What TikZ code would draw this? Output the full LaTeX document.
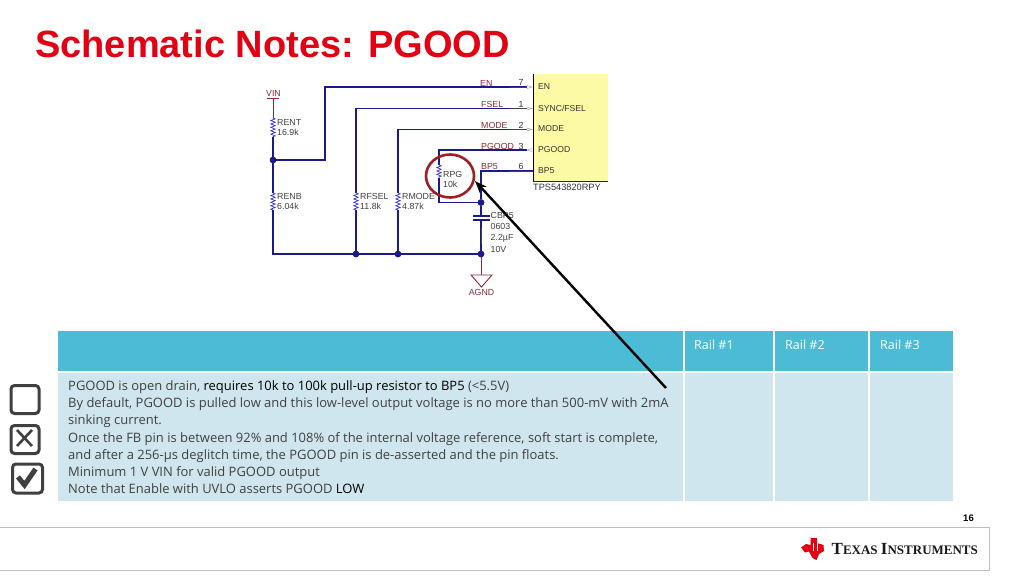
\documentclass[tikz,border=0pt]{standalone}
\usepackage{fontspec}
\setmainfont{Liberation Sans}
\newfontfamily\bodyfont{Open Sans}
\newfontfamily\logofont{Liberation Serif}
\usetikzlibrary{arrows.meta, decorations.pathmorphing, shapes.geometric}
\definecolor{ti_title}{RGB}{226, 0, 18}
\definecolor{ti_wire}{RGB}{26, 26, 140}
\definecolor{ti_res}{RGB}{50, 50, 220}
\definecolor{ti_net}{RGB}{140, 40, 50}
\definecolor{ti_chip}{RGB}{252, 250, 165}
\definecolor{ti_head}{RGB}{75, 187, 214}
\definecolor{ti_row}{RGB}{208, 230, 238}
\definecolor{ti_ring}{RGB}{160, 30, 35}
\definecolor{ti_text}{RGB}{64, 64, 64}
\definecolor{ti_frame}{RGB}{190, 190, 190}

\begin{document}
\begin{tikzpicture}[x=1pt, y=-1pt,
        wire/.style={ti_wire, line width=1.2pt},
        lead/.style={black!75, line width=1pt},
        resist/.style={ti_res, line width=0.7pt, decorate,
                       decoration={zigzag, segment length=3.4pt, amplitude=2.2pt}},
        junct/.style={circle, fill=ti_wire, inner sep=0pt, minimum size=6.5pt},
        partlbl/.style={font=\fontsize{8.8}{10.4}\selectfont, text=black!75, align=left,
                        inner sep=0pt, anchor=north west},
        netlbl/.style={font=\fontsize{8.8}{10}\selectfont, text=ti_net, inner sep=0pt, anchor=west},
        pinlbl/.style={font=\fontsize{8.6}{10}\selectfont, text=black!80, inner sep=0pt, anchor=west},
        pinnum/.style={font=\fontsize{8.8}{10}\selectfont, text=black!80, inner sep=0pt},
        pintip/.style={draw=black!40, fill=white, line width=0.4pt},
        cell/.style={rectangle, inner sep=0pt, anchor=north west},
        railtxt/.style={font=\bodyfont\fontsize{12.5}{14}\selectfont, text=white, inner sep=0pt, anchor=west},
        tickbox/.style={draw=ti_text, line width=3pt, rounded corners=3.5pt, fill=white},
      ]
        \useasboundingbox (0,0) rectangle (1024,576);

        % title
        \node[font=\bfseries\fontsize{38}{40}\selectfont, text=ti_title, inner sep=0pt, anchor=west]
          (title) at (35, 44) {Schematic Notes: PGOOD};

        % chip
        \node[cell, fill=ti_chip, minimum width=75pt, minimum height=107pt] (chip) at (533, 74) {};
        \draw[black, line width=1pt] (chip.north west) -- (chip.south west);
        \draw[ti_wire, line width=0.6pt] (chip.south west) -- (chip.south east);
        \node[pinlbl] (pin_en) at (538, 87) {EN};
        \node[pinlbl] (pin_fsel) at (538, 108) {SYNC/FSEL};
        \node[pinlbl] (pin_mode) at (538, 129) {MODE};
        \node[pinlbl] (pin_pgood) at (538, 150) {PGOOD};
        \node[pinlbl] (pin_bp5) at (538, 171) {BP5};
        \node[pinlbl, font=\fontsize{9.2}{10}\selectfont] (chipname) at (533, 187) {TPS543820RPY};

        % junctions and free ends
        \coordinate (vin) at (273, 98);
        \coordinate (rent_a) at (273, 118);
        \coordinate (rent_b) at (273, 137);
        \node[junct] (n_en) at (273, 160) {};
        \coordinate (renb_a) at (273, 193);
        \coordinate (renb_b) at (273, 210);
        \coordinate (bus_l) at (273, 254);
        \node[junct] (n_fsel) at (356, 254) {};
        \node[junct] (n_mode) at (398, 254) {};
        \node[junct] (n_cap) at (481, 254) {};
        \node[junct] (n_rpg) at (481, 202.5) {};
        \coordinate (en_a) at (325, 160);
        \coordinate (en_b) at (325, 87);
        \coordinate (en_c) at (527, 87);
        \coordinate (fsel_a) at (356, 108.5);
        \coordinate (fsel_c) at (527, 108.5);
        \coordinate (fsel_r1) at (356, 193);
        \coordinate (fsel_r2) at (356, 210);
        \coordinate (mode_a) at (398, 129.5);
        \coordinate (mode_c) at (527, 129.5);
        \coordinate (mode_r1) at (398, 193);
        \coordinate (mode_r2) at (398, 210);
        \coordinate (pg_a) at (439, 150);
        \coordinate (pg_c) at (527, 150);
        \coordinate (rpg_a) at (439, 165);
        \coordinate (rpg_b) at (439, 178);
        \coordinate (rpg_c) at (439, 202.5);
        \coordinate (bp_a) at (481, 171);
        \coordinate (bp_c) at (533, 171);
        \coordinate (cap_t) at (481, 216);
        \coordinate (cap_b) at (481, 220);
        \coordinate (gnd) at (481, 275);

        % wires
        \draw[wire] (rent_b) -- (n_en) -- (renb_a);
        \draw[wire] (n_en) -- (en_a) -- (en_b) -- (en_c);
        \draw[wire] (renb_b) -- (bus_l) -- (n_fsel) -- (n_mode) -- (n_cap);
        \draw[wire] (n_fsel) -- (fsel_r2);
        \draw[wire] (fsel_r1) -- (fsel_a) -- (fsel_c);
        \draw[wire] (n_mode) -- (mode_r2);
        \draw[wire] (mode_r1) -- (mode_a) -- (mode_c);
        \draw[wire] (pg_c) -- (pg_a) -- (rpg_a);
        \draw[wire] (rpg_b) -- (rpg_c) -- (n_rpg);
        \draw[wire] (bp_c) -- (bp_a) -- (n_rpg) -- (cap_t);
        \draw[wire] (cap_b) -- (n_cap);
        \draw[lead] (510, 87) -- (en_c);
        \draw[lead] (510, 108.5) -- (fsel_c);
        \draw[lead] (510, 129.5) -- (mode_c);
        \draw[lead] (510, 171) -- (bp_c);
        \draw[lead] (481, 228) -- (481, 244);

        % resistors
        \draw[ti_net, line width=0.9pt] (vin) -- (273, 110);
        \draw[lead] (273, 110) -- (rent_a);
        \draw[resist] (rent_a) -- (rent_b);
        \draw[resist] (renb_a) -- (renb_b);
        \draw[resist] (fsel_r1) -- (fsel_r2);
        \draw[resist] (mode_r1) -- (mode_r2);
        \draw[resist] (rpg_a) -- (rpg_b);

        % pin tips
        \draw[pintip] (527, 85.5) -- (532, 87) -- (527, 88.5) -- cycle;
        \draw[pintip] (527, 107) -- (532, 108.5) -- (527, 110) -- cycle;
        \draw[pintip] (527, 128) -- (532, 129.5) -- (527, 131) -- cycle;
        \draw[pintip] (532, 148.5) -- (527, 150) -- (532, 151.5) -- cycle;

        % VIN, capacitor, ground
        \draw[ti_net, line width=1pt] (267, 98) -- (279, 98);
        \node[netlbl, anchor=center] (vin_lbl) at (273.5, 93.5) {VIN};
        \draw[ti_wire, line width=1.2pt] (473, 216) -- (490, 216);
        \draw[ti_wire, line width=1.2pt] (473, 220) -- (490, 220);
        \draw[ti_net, line width=1pt] (n_cap) -- (gnd);
        \draw[ti_net, line width=0.9pt] (471, 275) -- (492, 275) -- (481.5, 287) -- cycle;
        \node[netlbl, anchor=center] (agnd_lbl) at (481.5, 292) {AGND};
        \node[junct] at (n_en) {};
        \node[junct] at (n_fsel) {};
        \node[junct] at (n_mode) {};
        \node[junct] at (n_cap) {};
        \node[junct] at (n_rpg) {};

        % part labels
        \node[partlbl] (rent_lbl) at (277, 119) {RENT\\16.9k};
        \node[partlbl] (renb_lbl) at (277, 193) {RENB\\6.04k};
        \node[partlbl] (rfsel_lbl) at (360, 193) {RFSEL\\11.8k};
        \node[partlbl] (rmode_lbl) at (402, 193) {RMODE\\4.87k};
        \node[partlbl] (rpg_lbl) at (443, 171) {RPG\\10k};
        \node[partlbl, font=\fontsize{8.8}{11.3}\selectfont] (cbp_lbl) at (490.5, 212)
          {CBP5\\0603\\2.2µF\\10V};

        % net labels and pin numbers
        \node[netlbl] (net_en) at (480, 83) {EN};
        \node[netlbl] (net_fsel) at (481, 104) {FSEL};
        \node[netlbl] (net_mode) at (481, 125) {MODE};
        \node[netlbl] (net_pgood) at (481, 146) {PGOOD};
        \node[netlbl] (net_bp5) at (481, 167) {BP5};
        \node[pinnum] (num_en) at (521, 82) {7};
        \node[pinnum] (num_fsel) at (521, 104) {1};
        \node[pinnum] (num_mode) at (521, 125) {2};
        \node[pinnum] (num_pgood) at (521, 146) {3};
        \node[pinnum] (num_bp5) at (521, 166) {6};

        % table
        \node[cell, fill=ti_head, minimum width=625pt, minimum height=40pt] (hd0) at (58, 331) {};
        \node[cell, fill=ti_head, minimum width=88pt, minimum height=40pt] (hd1) at (685, 331) {};
        \node[cell, fill=ti_head, minimum width=93pt, minimum height=40pt] (hd2) at (775, 331) {};
        \node[cell, fill=ti_head, minimum width=83pt, minimum height=40pt] (hd3) at (870, 331) {};
        \node[cell, fill=ti_row, minimum width=625pt, minimum height=128pt] (row0) at (58, 373) {};
        \node[cell, fill=ti_row, minimum width=88pt, minimum height=128pt] (row1) at (685, 373) {};
        \node[cell, fill=ti_row, minimum width=93pt, minimum height=128pt] (row2) at (775, 373) {};
        \node[cell, fill=ti_row, minimum width=83pt, minimum height=128pt] (row3) at (870, 373) {};
        \node[railtxt] (rail1) at (694, 344.5) {Rail \#1};
        \node[railtxt] (rail2) at (785, 344.5) {Rail \#2};
        \node[railtxt] (rail3) at (880, 344.5) {Rail \#3};

        \node[cell, font=\bodyfont\fontsize{12.97}{17.2}\selectfont, text=ti_text, align=left] (notes)
          at (68, 380.5)
          {PGOOD is open drain, \textcolor{black}{requires 10k to 100k pull-up resistor to BP5} (<5.5V)\\
           By default, PGOOD is pulled low and this low-level output voltage is no more than 500-mV with 2mA\\
           sinking current.\\
           Once the FB pin is between 92\% and 108\% of the internal voltage reference, soft start is complete,\\
           and after a 256-µs deglitch time, the PGOOD pin is de-asserted and the pin floats.\\
           Minimum 1 V VIN for valid PGOOD output\\
           Note that Enable with UVLO asserts PGOOD \textcolor{black}{LOW}};

        % ring and arrow
        \node[draw=ti_ring, line width=2.6pt, ellipse, inner sep=0pt, minimum width=48pt,
              minimum height=43pt] (ring) at (450, 176) {};
        \coordinate (arr_a) at (666, 388);
        \coordinate (arr_b) at (475, 181);
        \draw[-{Stealth[length=12pt, width=9pt]}, black, line width=2.4pt] (arr_a) -- (arr_b);

        % tick boxes
        \node[tickbox, cell, minimum width=28pt, minimum height=28pt] (box_empty) at (9.5, 384) {};
        \node[tickbox, cell, minimum width=28pt, minimum height=28pt] (box_cross) at (9.5, 424) {};
        \node[tickbox, cell, minimum width=30pt, minimum height=29pt] (box_check) at (11, 462.5) {};
        \draw[ti_text, line width=2.6pt] (17, 430) -- (32, 446) (32, 430) -- (17, 446);
        \draw[ti_text, line width=5pt] (18, 477) -- (24.5, 485) -- (35.5, 469);

        % footer
        \node[font=\bfseries\fontsize{9.5}{11}\selectfont, inner sep=0pt] (page) at (968.5, 518.5) {16};
        \node[cell, draw=ti_frame, line width=1pt, minimum width=990pt, minimum height=43pt] (foot) at (-1, 527) {};
        \fill[ti_title] (810.5, 538) -- (817, 538) -- (817, 543) -- (823.5, 545) -- (824, 551)
          -- (819, 554) -- (816.5, 560) -- (812.5, 558) -- (809, 551.5) -- (805, 552.5)
          -- (801, 547.5) -- (806, 544) -- (810.5, 545) -- cycle;
        \draw[white, line width=1pt] (813, 543) -- (813, 551) (817, 542) -- (817, 551);
        \node[font=\logofont\bfseries\fontsize{17}{18}\selectfont, inner sep=0pt, anchor=west, text=black!90]
          (logo) at (831.5, 549) {T\fontsize{13}{18}\selectfont EXAS \fontsize{17}{18}\selectfont I\fontsize{13}{18}\selectfont NSTRUMENTS};
      \end{tikzpicture}
\end{document}
